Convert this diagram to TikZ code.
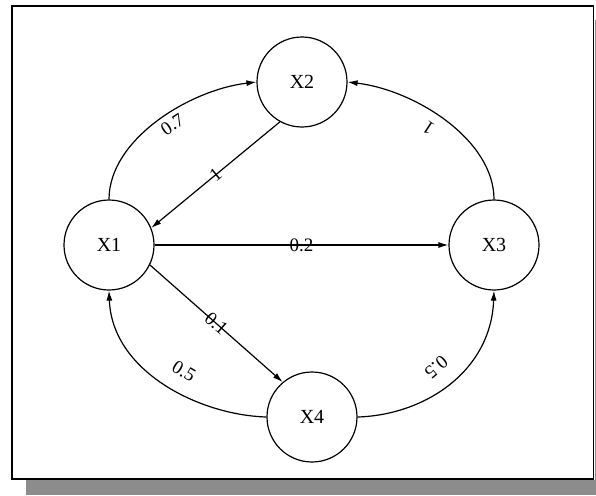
\documentclass[tikz,border=0pt]{standalone}
\usepackage{fontspec}
\setmainfont{Liberation Serif}
\usetikzlibrary{arrows.meta}
\begin{document}
\begin{tikzpicture}[x=1pt,y=-1pt,
  state/.style={circle,draw,line width=1.2pt,minimum size=90pt,inner sep=0pt,font=\fontsize{20}{22}\selectfont},
  conn/.style={line width=1.2pt,-{Latex[length=10pt,width=6pt]}},
  lbl/.style={font=\fontsize{19}{21}\selectfont,inner sep=2pt}]
\useasboundingbox (0,0) rectangle (596,495);
\fill[black!45] (26,480) rectangle (596,495);
\fill[black!45] (594.5,20) rectangle (596,480);
\draw[line width=1.5pt] (12,6) rectangle (593.5,479);
\node[state] (X1) at (109,245) {X1};
\node[state] (X2) at (302,82) {X2};
\node[state] (X3) at (494,245) {X3};
\node[state] (X4) at (312,417) {X4};
\draw[conn] (X1.north) .. controls +(0,-60) and +(-67,8) .. (X2.west)
  node[lbl,pos=0.55,sloped,below=2pt] {0.7};
\draw[conn] (X2.-119) -- (X1.22) node[lbl,midway,sloped] {1};
\draw[conn] (X1.east) -- (X3.west) node[lbl,midway] {0.2};
\draw[conn] (X1.-26) -- (X4.130) node[lbl,midway,sloped] {0.1};
\draw[conn] (X3.north) .. controls +(0,-60) and +(67,8) .. (X2.east)
  node[lbl,pos=0.55,sloped,allow upside down,above=7pt] {1};
\draw[conn] (X4.west) .. controls +(-67,-2) and +(3,81) .. (X1.south)
  node[lbl,pos=0.45,sloped,above=12pt] {0.5};
\draw[line width=1.2pt,{Latex[length=10pt,width=6pt]}-] (X3.south) .. controls +(-3,81) and +(67,-2) .. (X4.east)
  node[lbl,pos=0.5,sloped,allow upside down,below=12pt] {0.5};
\end{tikzpicture}
\end{document}
